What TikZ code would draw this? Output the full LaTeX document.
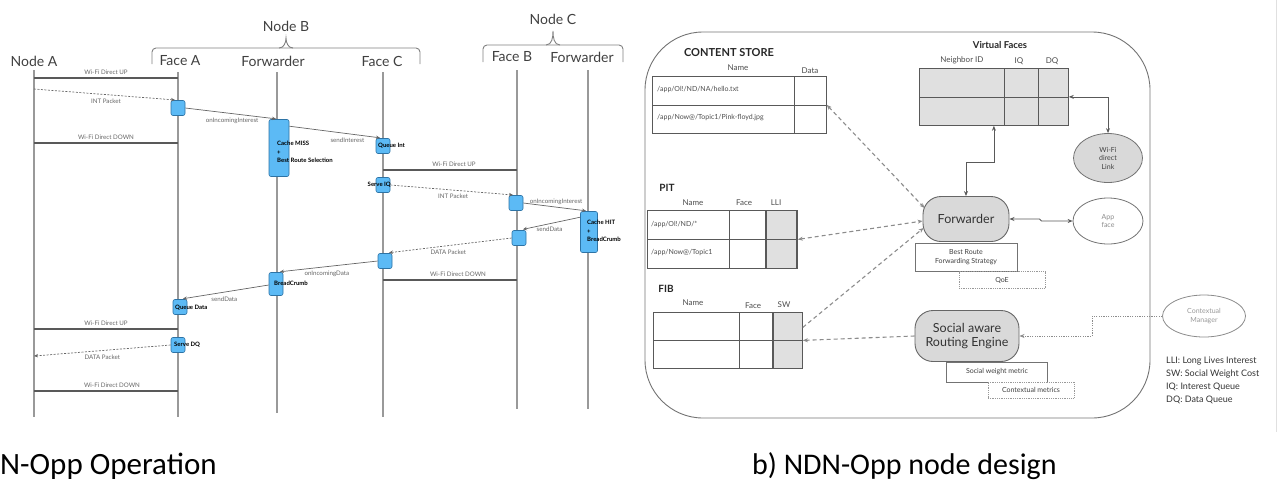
\documentclass[tikz,border=0pt]{standalone}
\usepackage{fontspec}
\setmainfont{Lato}
\newfontfamily\capfont{Carlito}
\usetikzlibrary{arrows.meta,shapes.geometric,calc}
\definecolor{bfill}{RGB}{92,186,245}
\definecolor{bdraw}{RGB}{45,115,165}
\begin{document}
\begin{tikzpicture}[x=1pt,y=-1pt,
  lifeline/.style={draw=black!40, line width=1.1pt},
  hdr/.style={font=\fontsize{14}{16}\selectfont, text=black!75, inner sep=0pt},
  brace/.style={draw=black!50, line width=0.9pt},
  wifi/.style={draw=black!65, line width=2.8pt},
  slab/.style={font=\fontsize{6.2}{7}\selectfont, text=black!60, inner sep=1pt},
  bluebox/.style={draw=bdraw, fill=bfill, rounded corners=2pt, minimum width=14pt, minimum height=15pt, inner sep=0pt, line width=0.6pt},
  blab/.style={font=\bfseries\fontsize{6}{8.5}\selectfont, align=left, inner sep=0pt, anchor=west},
  msg/.style={draw=black!60, line width=0.7pt, -{Stealth[length=4pt,width=3.5pt]}},
  pkt/.style={msg, dash pattern=on 2pt off 1.5pt},
  tbl/.style={draw=black!65, line width=0.8pt, anchor=north west, inner sep=0pt},
  tline/.style={draw=black!65, line width=0.8pt},
  ttl/.style={font=\bfseries\fontsize{10}{12}\selectfont, text=black!85, inner sep=0pt},
  th/.style={font=\fontsize{8}{10}\selectfont, text=black!70, inner sep=0pt},
  td/.style={font=\fontsize{7}{9}\selectfont, text=black!70, inner sep=0pt, anchor=west},
  proc/.style={draw=black!60, fill=black!15, rounded corners=18pt, line width=0.9pt, font=\fontsize{12.5}{14.5}\selectfont, text=black!80, align=center, inner sep=0pt},
  info/.style={draw=black!55, fill=white, line width=0.8pt, font=\fontsize{7}{9}\selectfont, text=black!75, align=center, inner sep=0pt},
  dotinfo/.style={info, draw=black!40, densely dotted},
  ell/.style={ellipse, draw=black!55, line width=0.8pt, inner sep=0pt, align=center, font=\fontsize{7}{8.5}\selectfont},
  dsh/.style={draw=black!45, line width=1.1pt, dash pattern=on 4pt off 3pt},
  dtt/.style={draw=black!45, line width=1pt, dash pattern=on 1.2pt off 1.2pt},
  tip/.style={-{Stealth[length=5pt,width=4pt]}},
  bitip/.style={{Stealth[length=5pt,width=4pt]}-{Stealth[length=5pt,width=4pt]}}
]
\useasboundingbox (0,0) rectangle (1281,499);
\draw[black!12, line width=0.8pt] (1276,0) -- (1276,432);

%% ---------------- left: sequence diagram ----------------
\node[hdr] (nA) at (34,61) {Node A};
\node[hdr] (fA) at (180,61) {Face A};
\node[hdr] (fwB) at (273,61) {Forwarder};
\node[hdr] (fC) at (382,61) {Face C};
\node[hdr] (nB) at (286,26) {Node B};
\node[hdr] (fB) at (512,57) {Face B};
\node[hdr] (fwC) at (582,57) {Forwarder};
\node[hdr] (nC) at (553,19) {Node C};

% braces
\draw[brace, rounded corners=4pt] (152,64) -- (152,48) -- (420,48) -- (420,64);
\draw[brace] (279,48) to[out=0,in=-90] (286,38) to[out=-90,in=180] (293,48);
\draw[brace, rounded corners=4pt] (483,62) -- (483,45) -- (623,45) -- (623,62);
\draw[brace] (546,45) to[out=0,in=-90] (553,31) to[out=-90,in=180] (560,45);

% lifelines
\draw[lifeline] (34,70) coordinate (lAt) -- (34,417) coordinate (lAb);
\draw[lifeline] (178,72) coordinate (lFAt) -- (178,417) coordinate (lFAb);
\draw[lifeline] (277,72) coordinate (lFBt) -- (277,413) coordinate (lFBb);
\draw[lifeline] (383,72) coordinate (lFCt) -- (383,417) coordinate (lFCb);
\draw[lifeline] (517,70) coordinate (lFBBt) -- (517,409) coordinate (lFBBb);
\draw[lifeline] (588,70) coordinate (lFwCt) -- (588,409) coordinate (lFwCb);

% wifi links
\draw[wifi] (34,78) -- (178,78) node[slab, midway, above=1.5pt] {Wi-Fi Direct UP};
\draw[wifi] (34,143) -- (178,143) node[slab, midway, above=1.5pt] {Wi-Fi Direct DOWN};
\draw[wifi] (383,170) -- (517,170) node[slab, midway, above=1.5pt, xshift=4pt] {Wi-Fi Direct UP};
\draw[wifi] (383,280) -- (517,280) node[slab, midway, above=1.5pt, xshift=8pt] {Wi-Fi Direct DOWN};
\draw[wifi] (34,329) -- (178,329) node[slab, midway, above=1.5pt] {Wi-Fi Direct UP};
\draw[wifi] (34,391) -- (178,391) node[slab, midway, above=1.5pt, xshift=6pt] {Wi-Fi Direct DOWN};

% activation boxes
\node[bluebox] (b1) at (178,108) {};
\node[bluebox, minimum width=20pt, minimum height=57pt] (miss) at (279,148) {};
\node[bluebox] (qint) at (383,146) {};
\node[bluebox] (siq) at (383,185) {};
\node[bluebox] (b2) at (516,203) {};
\node[bluebox, minimum width=17pt, minimum height=41pt] (hit) at (589,232) {};
\node[bluebox] (b3) at (519,238) {};
\node[bluebox] (b4) at (385,261) {};
\node[bluebox, minimum height=23pt] (bc) at (276,284) {};
\node[bluebox] (qd) at (180,307) {};
\node[bluebox] (sdq) at (178,345) {};

\node[blab] (lmiss) at (277,152) {Cache MISS\\+\\Best Route Selection};
\node[blab] (lqint) at (378,146) {Queue Int};
\node[blab, anchor=east] (lsiq) at (391,185) {Serve IQ};
\node[blab] (lhit) at (587,231) {Cache HIT\\+\\BreadCrumb};
\node[blab] (lbc) at (274,283) {BreadCrumb};
\node[blab] (lqd) at (175,308) {Queue Data};
\node[blab] (lsdq) at (174,345) {Serve DQ};

% messages
\coordinate (m1s) at (34,89);
\draw[pkt, shorten >=3pt] (m1s) -- (b1.north) node[slab, midway, below=3pt] {INT Packet};
\draw[msg, shorten >=3pt] (b1.east) -- (miss.north) node[slab, midway, below=3pt] {onIncomingInterest};
\draw[msg, shorten >=3pt] ([yshift=-7pt]miss.north east) -- (qint.north) node[slab, pos=0.62, below=3pt] {sendInterest};
\draw[pkt, shorten >=3pt] (siq.east) -- (b2.north) node[slab, midway, below=2pt] {INT Packet};
\draw[msg, shorten >=3pt] (b2.east) -- (hit.north) node[slab, midway, above=1pt] {onIncomingInterest};
\draw[msg, shorten >=4pt] ([yshift=-6pt]hit.north west) -- (b3.north) node[slab, midway, below=2pt] {sendData};
\draw[pkt, shorten >=4pt] (b3.west) -- (b4.north) node[slab, midway, below=3pt] {DATA Packet};
\draw[msg, shorten >=4pt] (b4.west) -- (bc.north) node[slab, midway, below=3pt] {onIncomingData};
\draw[msg, shorten >=3pt] ([yshift=-1pt]bc.west) -- (qd.north) node[slab, midway, below=3pt] {sendData};
\coordinate (m10e) at (34,356);
\draw[pkt] (sdq.west) -- (m10e) node[slab, midway, below=3pt] {DATA Packet};

%% ---------------- right: node design ----------------
\node[draw=black!55, line width=0.9pt, rounded corners=58pt, minimum width=505pt, minimum height=386pt, inner sep=0pt] (frame) at (897.5,225) {};

% content store
\node[ttl, font=\bfseries\fontsize{11}{13}\selectfont] (tcs) at (729,53) {CONTENT STORE};
\node[th] (hcs1) at (738,68) {Name};
\node[th] (hcs2) at (810,71) {Data};
\node[tbl, minimum width=174pt, minimum height=57pt] (cs) at (652,76) {};
\draw[tline] (cs.west) -- (cs.east);
\draw[tline] (794,76) -- (794,133);
\node[td] (cs1) at (657,90) {/app/Ol!/ND/NA/hello.txt};
\node[td] (cs2) at (657,118) {/app/Now@/Topic1/Pink-floyd.jpg};

% PIT
\node[ttl] (tpit) at (667,188) {PIT};
\node[th] (hp1) at (693,203) {Name};
\node[th] (hp2) at (744,203) {Face};
\node[th] (hp3) at (776,203) {LLI};
\fill[black!12] (766,210) rectangle (797,268);
\node[tbl, minimum width=150pt, minimum height=58pt] (pit) at (647,210) {};
\draw[tline] (pit.west) -- (pit.east);
\draw[tline] (729,210) -- (729,268);
\draw[tline, line width=1.4pt] (766,210) -- (766,268);
\draw[tline, line width=1.4pt] (797,210) -- (797,268);
\node[td] (p1) at (651,224) {/app/Ol!/ND/*};
\node[td] (p2) at (651,253) {/app/Now@/Topic1};

% FIB
\node[ttl] (tfib) at (666,289) {FIB};
\node[th] (hf1) at (693,303) {Name};
\node[th] (hf2) at (753,306) {Face};
\node[th] (hf3) at (784,305) {SW};
\fill[black!12] (773,312) rectangle (802,368);
\node[tbl, minimum width=149pt, minimum height=56pt] (fib) at (653,312) {};
\draw[tline] (fib.west) -- (fib.east);
\draw[tline] (739,312) -- (739,368);
\draw[tline, line width=1.4pt] (773,312) -- (773,368);

% Virtual faces
\node[ttl, font=\bfseries\fontsize{9.5}{11}\selectfont] (tvf) at (1000,45) {Virtual Faces};
\node[th] (hv1) at (962,60) {Neighbor ID};
\node[th] (hv2) at (1019,61) {IQ};
\node[th] (hv3) at (1052,61) {DQ};
\node[tbl, fill=black!12, minimum width=149pt, minimum height=57pt] (vf) at (919,68) {};
\draw[tline] (vf.west) -- (vf.east);
\draw[tline] (1004,68) -- (1004,125);
\draw[tline] (1038,68) -- (1038,125);

% processing nodes
\node[proc, minimum width=86pt, minimum height=45pt] (fwd) at (966,219) {Forwarder};
\node[info, minimum width=102pt, minimum height=28pt] (brfs) at (966,257) {Best Route\\Forwarding Strategy};
\node[dotinfo, minimum width=86pt, minimum height=17pt] (qoe) at (1002,280) {QoE};
\node[proc, minimum width=104pt, minimum height=51pt] (eng) at (967,336) {Social aware\\Routing Engine};
\node[info, minimum width=101pt, minimum height=20pt] (swm) at (997,372) {Social weight metric};
\node[dotinfo, minimum width=86pt, minimum height=16pt] (cxm) at (1031,390) {Contextual metrics};

% ellipses
\node[ell, fill=black!15, minimum width=69pt, minimum height=49pt, text=black!75] (wifi) at (1108,158) {Wi-Fi\\direct\\Link};
\node[ell, fill=white, minimum width=70pt, minimum height=46pt, text=black!45] (app) at (1108,221) {App\\face};
\node[ell, fill=white, minimum width=83pt, minimum height=42pt, text=black!40, draw=black!45] (cm) at (1204,316) {Contextual\\Manager};

% connectors
\draw[tline, bitip] (vf.east) -| (wifi.north);
\draw[tline, bitip] (vf.south) -- ++(0,37) -| (fwd.north);
\draw[tline, bitip] (fwd.east) -- ++(30,0) -- ++(2,2) -- (app.west);
\draw[dsh, bitip] (cs.east) -- ([xshift=2pt,yshift=11pt]fwd.west);
\draw[dsh, bitip] (pit.east) -- ([yshift=-2pt]fwd.west);
\draw[dsh, tip] ([yshift=13pt]fib.east) -- ([xshift=1pt,yshift=-9pt]fwd.west);
\draw[dsh, tip] (eng.west) -- (fib.east);
\draw[dtt, tip] (cm.west) -- ++(-70,0) |- (eng.east);

% legend
\node[anchor=north west, align=left, inner sep=0pt, font=\fontsize{9}{13}\selectfont, text=black!80] (leg) at (1166,357) {LLI: Long Lives Interest\\SW: Social Weight Cost\\IQ: Interest Queue\\DQ: Data Queue};

% captions
\node[anchor=base west, inner sep=0pt, font=\capfont\fontsize{31}{36}\selectfont] (capa) at (0,474) {N-Opp Operation};
\node[anchor=base west, inner sep=0pt, font=\capfont\fontsize{30}{36}\selectfont] (capb) at (752,474) {b) NDN-Opp node design};
\end{tikzpicture}
\end{document}
